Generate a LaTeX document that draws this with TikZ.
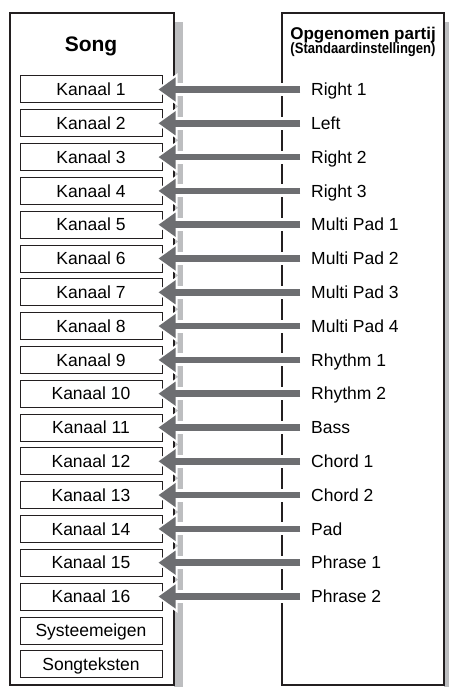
\documentclass[tikz,border=0pt]{standalone}
\usepackage{fontspec}
\setmainfont{Liberation Sans}
\usetikzlibrary{arrows.meta, calc}
\definecolor{rand}{HTML}{231F20}
\definecolor{schaduw}{HTML}{BDBEC0}
\definecolor{pijlgrijs}{HTML}{6D6E71}

\begin{document}
\begin{tikzpicture}[x=1pt, y=-1pt, line cap=butt,
  kanaal/.style={draw=rand, line width=1pt, minimum width=142pt, minimum height=27pt,
    inner sep=0pt, text height=12.3pt, text depth=0pt, font=\fontsize{17.5}{20}\selectfont},
  partij/.style={anchor=west, inner xsep=11pt, inner ysep=0pt, text height=12.3pt,
    text depth=0pt, font=\fontsize{17.5}{20}\selectfont},
  pijl/.style={pijlgrijs, line width=6.5pt, -{Triangle[length=17pt, width=23pt]}, shorten >=-4pt},
  pijlrand/.style={white, line width=13pt, -{Triangle[length=22pt, width=31pt]}, shorten >=-7pt}]

\useasboundingbox (0,0) rectangle (449,687);

% Panelen met schaduw
\fill[schaduw] (174,22) rectangle (183,687);
\fill[schaduw] (444,22) rectangle (449,687);
\draw[rand, line width=2pt, fill=white] (10,13) rectangle (174,685);
\draw[rand, line width=2pt, fill=white] (282,13) rectangle (444,685);

% Koppen
\node[anchor=base, font=\bfseries\fontsize{21}{24}\selectfont] (songkop) at (91,52) {Song};
\node[anchor=base, font=\bfseries\fontsize{17}{20}\selectfont] (partijkop) at (363,40) {Opgenomen partij};
\node[anchor=base, xscale=0.87, font=\bfseries\fontsize{15}{18}\selectfont] (standaard) at (363,54) {(Standaardinstellingen)};

% Kanalen en partijen
\foreach \naam [count=\i] in {Right 1, Left, Right 2, Right 3, Multi Pad 1, Multi Pad 2,
    Multi Pad 3, Multi Pad 4, Rhythm 1, Rhythm 2, Bass, Chord 1, Chord 2, Pad, Phrase 1, Phrase 2} {
  \node[kanaal] (k\i) at (91, {89.5+33.8*(\i-1)}) {Kanaal \i};
  \node[partij] (p\i) at (300, {89.5+33.8*(\i-1)}) {\naam};
}
\node[kanaal] (sys) at (91,630.5) {Systeemeigen};
\node[kanaal] (tekst) at (91,664.3) {Songteksten};

% Pijlen (wit randje eronder)
\foreach \i in {1,...,16} \draw[pijlrand] (p\i.west) -- (k\i.east);
\foreach \i in {1,...,16} \draw[pijl] (p\i.west) -- (k\i.east);

\end{tikzpicture}
\end{document}
